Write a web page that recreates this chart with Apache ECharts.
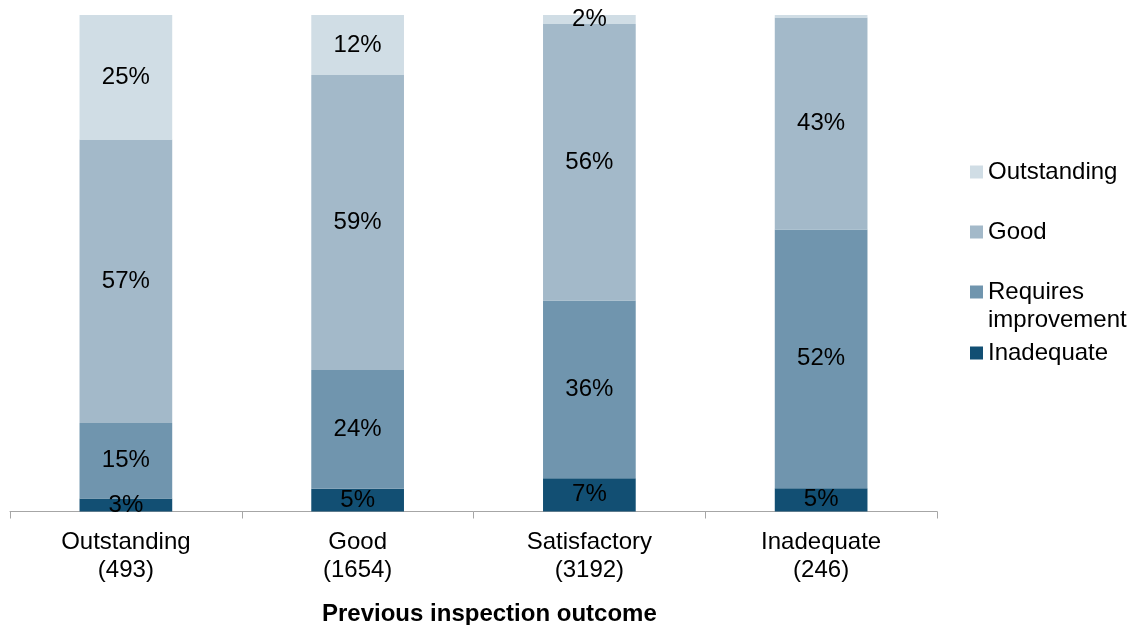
<!DOCTYPE html>
<html>
<head>
<meta charset="utf-8">
<script src="https://cdn.jsdelivr.net/npm/echarts@6/dist/echarts.min.js"></script>
<style>
  html, body { margin: 0; padding: 0; background: #ffffff; }
  #chart { width: 1133px; height: 625px; }
</style>
</head>
<body>
<div id="chart"></div>
<script>
// Previous inspection outcome groups and their sizes
const categories = ['Outstanding', 'Good', 'Satisfactory', 'Inadequate'];
const groupSizes = [493, 1654, 3192, 246];

// Share of each current outcome (%) per previous outcome group
const inadequate  = [2.6, 4.6, 6.7, 4.7];
const requiresImp = [15.2, 23.9, 35.8, 52.1];
const good        = [57.1, 59.4, 55.7, 42.7];
const outstanding = [25.1, 12.1, 1.8, 0.5];

const axisTitle = 'Previous inspection outcome';

const FONT = '"Liberation Sans", Arial, sans-serif';
const colors = {
  'Outstanding': '#d0dde5',
  'Good': '#a3b9c9',
  'Requires improvement': '#7095ae',
  'Inadequate': '#124f73'
};

function seriesOf(name, data) {
  return {
    name: name,
    type: 'bar',
    stack: 'share',
    barWidth: '40%',
    data: data,
    itemStyle: { color: colors[name] },
    label: {
      show: true,
      position: 'inside',
      color: '#000000',
      fontFamily: FONT,
      fontSize: 24,
      formatter: p => (p.value < 1 ? '' : Math.round(p.value) + '%')
    },
    emphasis: { disabled: true }
  };
}

// One legend block per entry so each can sit at its own height;
// the two-line entry gets a blank leading line so its swatch sits beside the first line.
function legendItem(name, top) {
  return {
    data: [name],
    left: 970,
    top: top,
    padding: 0,
    orient: 'vertical',
    itemWidth: 13,
    itemHeight: 13,
    selectedMode: false,
    icon: 'rect',
    formatter: name === 'Requires improvement' ? '\nRequires\nimprovement' : '{name}',
    textStyle: {
      fontFamily: FONT,
      fontSize: 24,
      color: '#000000',
      lineHeight: 28
    }
  };
}

const chart = echarts.init(document.getElementById('chart'), null, { renderer: 'canvas' });

chart.setOption({
  animation: false,
  backgroundColor: '#ffffff',
  grid: { left: 10, right: 196, top: 15, bottom: 113.5, containLabel: false },
  title: {
    text: axisTitle,
    left: 322,
    top: 602,
    padding: 0,
    textStyle: { fontFamily: FONT, fontSize: 24, fontWeight: 'bold', color: '#000000' }
  },
  legend: [
    legendItem('Outstanding', 158),
    legendItem('Good', 218),
    legendItem('Requires improvement', 250),
    legendItem('Inadequate', 339)
  ],
  xAxis: {
    type: 'category',
    data: categories,
    boundaryGap: true,
    axisLine: { show: true, lineStyle: { color: '#a6a6a6', width: 1 } },
    axisTick: { show: true, length: 7, alignWithLabel: false, lineStyle: { color: '#a6a6a6' } },
    axisLabel: {
      margin: 17,
      color: '#000000',
      fontFamily: FONT,
      fontSize: 24,
      lineHeight: 28,
      formatter: (v, i) => v + '\n(' + groupSizes[i] + ')'
    }
  },
  yAxis: {
    type: 'value',
    min: 0,
    max: 100,
    show: false
  },
  series: [
    seriesOf('Inadequate', inadequate),
    seriesOf('Requires improvement', requiresImp),
    seriesOf('Good', good),
    seriesOf('Outstanding', outstanding)
  ]
});
</script>
</body>
</html>
